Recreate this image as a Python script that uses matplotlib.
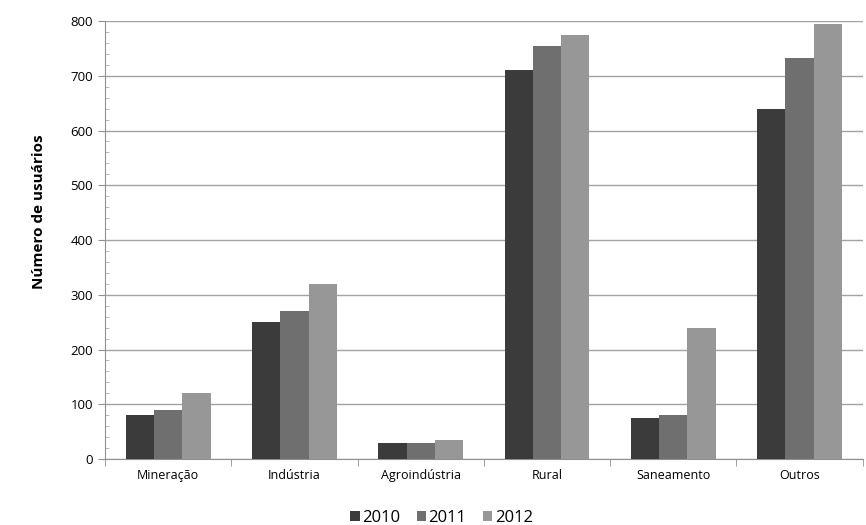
import matplotlib.pyplot as plt
import numpy as np
from matplotlib.ticker import MultipleLocator

plt.rcParams['font.family'] = ['Open Sans', 'DejaVu Sans']

setores = ['Mineração', 'Indústria', 'Agroindústria', 'Rural', 'Saneamento', 'Outros']
anos = ['2010', '2011', '2012']
usuarios_2010 = [80, 250, 30, 710, 75, 640]
usuarios_2011 = [90, 270, 30, 755, 80, 733]
usuarios_2012 = [120, 320, 35, 775, 240, 795]
cores = ['#3b3b3b', '#6f6f6f', '#979797']


def make_bar():
  fig = plt.figure(figsize=(8.66, 5.25), dpi=100)
  ax = fig.add_axes([0.1212, 0.1257, 0.875, 0.8343])
  x = np.arange(len(setores))
  w = 0.224
  series = [usuarios_2010, usuarios_2011, usuarios_2012]
  for i, (vals, ano) in enumerate(zip(series, anos)):
    ax.bar(x + (i - 1) * w, vals, width=w, color=cores[i], label=ano, zorder=3)

  ax.set_xlim(-0.5, len(setores) - 0.5)
  ax.set_ylim(0, 800)
  ax.yaxis.set_major_locator(MultipleLocator(100))
  ax.yaxis.set_minor_locator(MultipleLocator(20))
  ax.grid(axis='y', which='major', color='#a3a3a3', linewidth=1, zorder=0)

  # category labels in the middle, tick marks on the boundaries
  ax.set_xticks(x)
  ax.set_xticklabels(setores, fontsize=9)
  ax.tick_params(axis='x', which='major', length=0, pad=7)
  ax.set_xticks(np.arange(-0.5, len(setores), 1), minor=True)
  ax.tick_params(axis='x', which='minor', length=5, color='#909090', direction='out')
  ax.tick_params(axis='y', which='major', labelsize=9.5, length=5, color='#909090')
  ax.tick_params(axis='y', which='minor', length=3, color='#b0b0b0', direction='in')

  for s in ['top', 'right']:
    ax.spines[s].set_visible(False)
  for s in ['left', 'bottom']:
    ax.spines[s].set_color('#909090')

  ax.set_ylabel('Número de usuários', fontsize=11, fontweight='bold')
  ax.yaxis.set_label_coords(-0.078, 0.565)

  fig.legend(loc='lower center', bbox_to_anchor=(0.51, -0.03), ncol=3, frameon=False,
             fontsize=12, handlelength=0.55, handleheight=0.55, handletextpad=0.15,
             columnspacing=1.0)
  plt.savefig('out.png', dpi=100)


if __name__ == '__main__':
  make_bar()
